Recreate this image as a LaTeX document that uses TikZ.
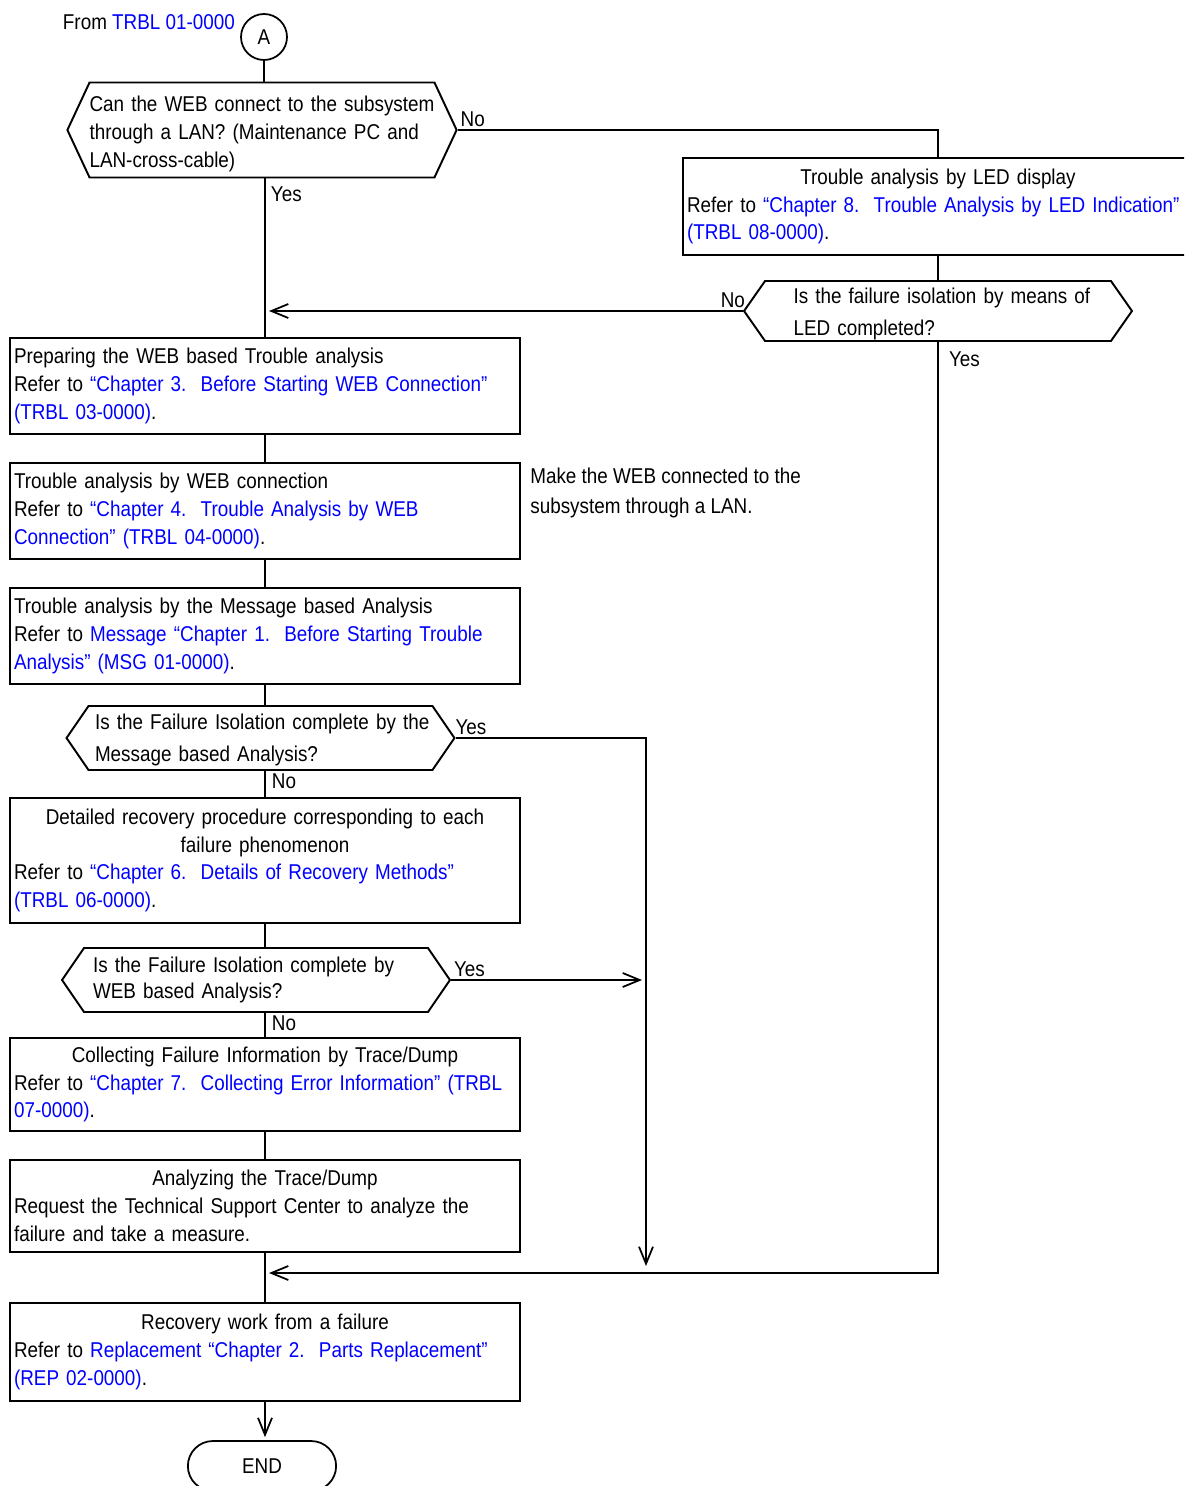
\documentclass[tikz,border=0pt]{standalone}
\usepackage{fontspec}
\setmainfont{Liberation Sans}[FakeStretch=0.88]
\usetikzlibrary{arrows.meta,positioning,shapes.symbols,shapes.misc}
\definecolor{refblue}{RGB}{0,0,255}
\newcommand{\lnk}[1]{\textcolor{refblue}{#1}}
\newcommand{\ctr}[1]{\makebox[\hsize]{#1}}
\newcommand{\topstrut}[1]{\rule{0pt}{#1}}

\begin{document}
\begin{tikzpicture}[
  x=0.02cm, y=-0.02cm,
  font=\fontsize{12.2}{15.9}\selectfont,
  bx/.style  = {draw, line width=1.1pt, align=left, inner xsep=0.08cm, inner ysep=0pt,
                text width=10.04cm, anchor=north},
  dec/.style = {draw, line width=1.1pt, signal, signal to=east and west, align=left,
                inner ysep=0pt, minimum width=7.76cm},
  ln/.style  = {line width=1pt},
  ar/.style  = {line width=1pt, -{Straight Barb[length=0.34cm, width=0.28cm]}},
  lbl/.style = {inner sep=1.5pt},
  node distance=0.54cm
]
\clip (0,0) rectangle (1184,1486);

% ---------- entry ------------------------------------------------------
\node[anchor=east, inner sep=1pt] (from) at (237,22) {From \lnk{TRBL 01-0000}};
\node[circle, draw, line width=1pt, minimum size=0.92cm, inner sep=0pt] (ca) at (264,37) {A};

\node[dec, signal pointer angle=130, minimum height=1.9cm, text width=6.9cm, inner xsep=0pt]
  (canlan) at (262,130)
  {\mbox{\topstrut{13.5pt}Can the WEB connect to the subsystem}\\\mbox{through a LAN? (Maintenance PC and}\\LAN-cross-cable)};

% ---------- LED branch (right) -----------------------------------------
\node[bx, minimum height=1.94cm] (led) at (938,157)
  {\ctr{Trouble analysis by LED display}\\
   Refer to \lnk{“Chapter 8.\ \ Trouble Analysis by LED Indication”}\\
   \lnk{(TRBL 08-0000)}.};

\node[dec, signal pointer angle=110, minimum height=1.2cm, text width=5.78cm, inner xsep=0.56cm]
  (ledok) at (938,311)
  {\mbox{\topstrut{12.3pt}Is the failure isolation by means of}\\[2pt]LED completed?};

% ---------- main spine -------------------------------------------------
\node[bx, minimum height=1.92cm] (prep) at (265,337)
  {Preparing the WEB based Trouble analysis\\
   Refer to \lnk{“Chapter 3.\ \ Before Starting WEB Connection”}\\
   \lnk{(TRBL 03-0000)}.};

\node[bx, minimum height=1.92cm, below=of prep] (wbc)
  {Trouble analysis by WEB connection\\
   Refer to \lnk{“Chapter 4.\ \ Trouble Analysis by WEB}\\
   \lnk{Connection” (TRBL 04-0000)}.};

\node[anchor=west, align=left, inner sep=0pt] (note) at (530,493)
  {Make the WEB connected to the\\[1pt]subsystem through a LAN.};

\node[bx, minimum height=1.92cm, below=of wbc] (mba)
  {Trouble analysis by the Message based Analysis\\
   Refer to \lnk{Message “Chapter 1.\ \ Before Starting Trouble}\\
   \lnk{Analysis” (MSG 01-0000)}.};

\node[dec, signal pointer angle=111, minimum height=1.28cm, text width=6.62cm, inner xsep=0.12cm]
  (msgok) at (260.5,738)
  {\mbox{\topstrut{11.2pt}Is the Failure Isolation complete by the}\\[2pt]Message based Analysis?};

\node[bx, minimum height=2.5cm] (detail) at (265,797)
  {\ctr{Detailed recovery procedure corresponding to each}\\
   \ctr{failure phenomenon}\\
   Refer to \lnk{“Chapter 6.\ \ Details of Recovery Methods”}\\
   \lnk{(TRBL 06-0000)}.};

\node[dec, signal pointer angle=111, minimum height=1.28cm, text width=6.52cm, inner xsep=0.18cm]
  (webok) at (256,980)
  {\mbox{Is the Failure Isolation complete by}\\[-1.5pt]WEB based Analysis?};

\node[bx, minimum height=1.86cm] (trace) at (265,1037)
  {\ctr{Collecting Failure Information by Trace/Dump}\\
   Refer to \lnk{“Chapter 7.\ \ Collecting Error Information” (TRBL}\\
   \lnk{07-0000)}.};

\node[bx, minimum height=1.84cm, below=of trace] (rtrace)
  {\ctr{Analyzing the Trace/Dump}\\
   Request the Technical Support Center to analyze the\\
   failure and take a measure.};

\node[bx, minimum height=1.96cm] (recov) at (265,1302)
  {\ctr{Recovery work from a failure}\\
   Refer to \lnk{Replacement “Chapter 2.\ \ Parts Replacement”}\\
   \lnk{(REP 02-0000)}.};

\node[draw, line width=1pt, rounded rectangle, minimum width=3.2cm, minimum height=1cm]
  (fin) at (262,1466) {END};

% ---------- join points ------------------------------------------------
\coordinate (merge) at (265,1273);
\coordinate (rbus) at (646,1273);

% ---------- connectors -------------------------------------------------
\draw[ln] (ca.south) -- (ca.south |- canlan.north);
\draw[ln] (canlan.east) -| (led.north);
\node[lbl, anchor=south west] at (canlan.east) {No};
\draw[ln] (prep.north |- canlan.south) -- (prep.north);
\node[lbl, anchor=north west] at ([xshift=0.06cm, yshift=-0.1cm]prep.north |- canlan.south) {Yes};

\draw[ln] (led.south) -- (led.south |- ledok.north);
\draw[ar, shorten >=0.08cm] (ledok.west) -- (prep.north |- ledok.west);
\node[lbl, anchor=south east] at ([xshift=0.1cm]ledok.west) {No};
\draw[ar, shorten >=0.08cm] (ledok.south) |- (merge);
\node[lbl, anchor=north west] at ([xshift=0.16cm, yshift=-0.14cm]ledok.south) {Yes};

\foreach \a/\b in {prep/wbc, wbc/mba, trace/rtrace}{
  \draw[ln] (\a.south) -- (\b.north);}

\draw[ln] (mba.south) -- (mba.south |- msgok.north);
\draw[ln] (detail.north |- msgok.south) -- (detail.north);
\node[lbl, anchor=north west] at ([xshift=0.08cm]detail.north |- msgok.south) {No};
\draw[ar, shorten >=0.14cm] (msgok.east) -| (rbus);
\node[lbl, anchor=south west] at ([xshift=-0.06cm]msgok.east) {Yes};

\draw[ln] (detail.south) -- (detail.south |- webok.north);
\draw[ln] (trace.north |- webok.south) -- (trace.north);
\node[lbl, anchor=north west] at ([xshift=0.08cm]trace.north |- webok.south) {No};
\draw[ar, shorten >=0.08cm] (webok.east) -- (rbus |- webok.east);
\node[lbl, anchor=south west] at (webok.east) {Yes};

\draw[ln] (rtrace.south) -- (recov.north);
\draw[ar, shorten >=0.06cm] (recov.south) -- (recov.south |- fin.north);

\end{tikzpicture}
\end{document}
